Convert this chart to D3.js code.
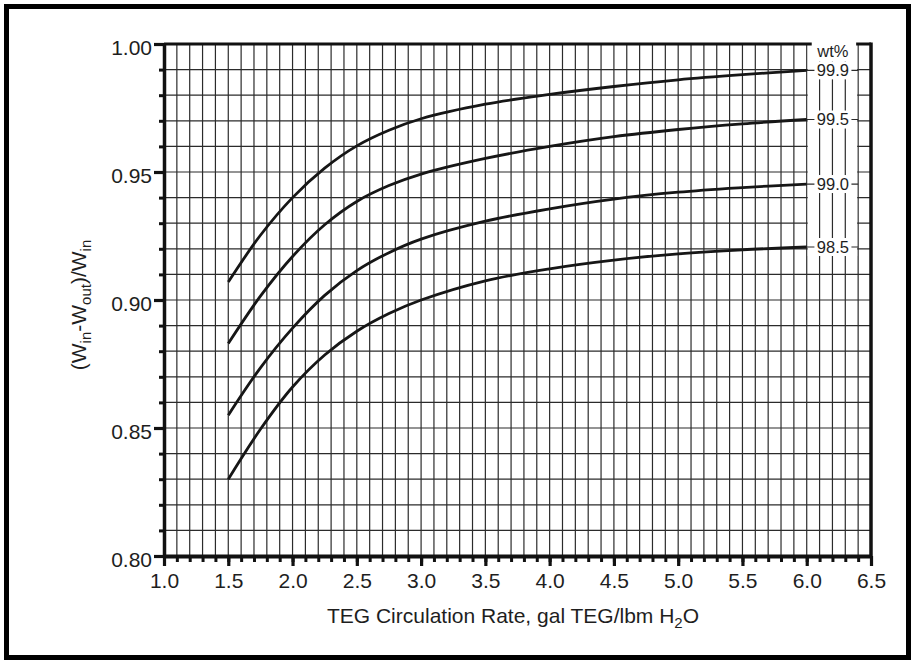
<!DOCTYPE html>
<html>
<head>
<meta charset="utf-8">
<script src="https://cdn.jsdelivr.net/npm/d3@7"></script>
<style>
  body { margin: 0; background: #fff; }
  text { font-family: "Liberation Sans", Arial, Helvetica, sans-serif; fill: #1e1e1e; }
</style>
</head>
<body>
<svg id="chart" width="915" height="664"></svg>
<script>
// ---------------- data ----------------
const xTicks = [1.0, 1.5, 2.0, 2.5, 3.0, 3.5, 4.0, 4.5, 5.0, 5.5, 6.0, 6.5];
const yTicks = [0.80, 0.85, 0.90, 0.95, 1.00];
const seriesLabels = ["99.9", "99.5", "99.0", "98.5"];
const legendTitle = "wt%";
const xTitle = "TEG Circulation Rate, gal TEG/lbm H";
const rate   = [1.5,   1.75,   2.0,   2.25,   2.5,    2.75,   3.0,    3.5,    4.0,    4.5,    5.0,    5.5,    6.0];
const eff999 = [0.907, 0.9253, 0.940, 0.9515, 0.9602, 0.9663, 0.9708, 0.9765, 0.9803, 0.9834, 0.9860, 0.9880, 0.9897];
const eff995 = [0.883, 0.9015, 0.917, 0.9294, 0.9385, 0.9447, 0.9492, 0.9553, 0.9600, 0.9638, 0.9666, 0.9688, 0.9705];
const eff990 = [0.855, 0.8735, 0.889, 0.9018, 0.9115, 0.9185, 0.9238, 0.9308, 0.9356, 0.9394, 0.9421, 0.9439, 0.9453];
const eff985 = [0.830, 0.8495, 0.866, 0.8785, 0.8878, 0.8947, 0.9000, 0.9075, 0.9122, 0.9156, 0.9180, 0.9196, 0.9207];
const seriesValues = [eff999, eff995, eff990, eff985];

// ---------------- chart ----------------
const svg = d3.select("#chart");
const x = d3.scaleLinear().domain([1.0, 6.5]).range([164, 871]);
const y = d3.scaleLinear().domain([0.80, 1.00]).range([556, 44]);

const minorX = d3.range(10, 66).map(i => +(i / 10).toFixed(1));
const minorY = d3.range(80, 101).map(i => +(i / 100).toFixed(2));

// outer frame
svg.append("rect").attr("x", 6.5).attr("y", 6.5).attr("width", 902).attr("height", 651)
  .attr("fill", "none").attr("stroke", "#000").attr("stroke-width", 5);

// grid
const gridV = svg.append("g").attr("stroke", "#2b2b2b").attr("stroke-width", 1.2);
gridV.selectAll("line").data(minorX.filter(v => v > 1.01 && v < 6.49)).join("line")
  .attr("x1", d => x(d)).attr("x2", d => x(d)).attr("y1", y(1)).attr("y2", y(0.8));
const gridH = svg.append("g").attr("stroke", "#2b2b2b").attr("stroke-width", 1.2);
gridH.selectAll("line").data(minorY.filter(v => v > 0.801 && v < 0.999)).join("line")
  .attr("x1", x(1)).attr("x2", x(6.5)).attr("y1", d => y(d)).attr("y2", d => y(d));

// label column mask
const ends = seriesValues.map(s => s[s.length - 1]);
const boxH = 18, boxW = 37, colCx = x(6.2) + 0.5;
const maskTop = y(1) - 3;
const maskBottom = y(ends[ends.length - 1]) + boxH / 2;
svg.append("rect").attr("x", x(6.0) + 1).attr("y", maskTop)
  .attr("width", x(6.4) - x(6.0) - 2).attr("height", maskBottom - maskTop).attr("fill", "#fff");
// vertical stubs in column
const stubs = svg.append("g").attr("stroke", "#2b2b2b").attr("stroke-width", 1.2);
stubs.selectAll("line").data([6.1, 6.2, 6.3]).join("line")
  .attr("x1", d => x(d)).attr("x2", d => x(d))
  .attr("y1", y(ends[0]) - boxH / 2).attr("y2", maskBottom);
// leaders
const leaders = svg.append("g").attr("stroke", "#2b2b2b").attr("stroke-width", 1.2);
leaders.selectAll("line").data(ends).join("line")
  .attr("x1", x(6.0)).attr("x2", x(6.4)).attr("y1", d => y(d)).attr("y2", d => y(d));
// label boxes
svg.append("g").selectAll("rect").data(ends).join("rect")
  .attr("x", colCx - boxW / 2).attr("width", boxW)
  .attr("y", d => y(d) - boxH / 2).attr("height", boxH).attr("fill", "#fff");

// curves
const line = d3.line().x(d => x(d[0])).y(d => y(d[1])).curve(d3.curveCatmullRom.alpha(0.5));
svg.append("g").selectAll("path").data(seriesValues).join("path")
  .attr("d", s => line(rate.map((r, i) => [r, s[i]])))
  .attr("fill", "none").attr("stroke", "#161616").attr("stroke-width", 2.8)
  .attr("stroke-linejoin", "round");

// series labels
svg.append("g").selectAll("text").data(seriesLabels).join("text")
  .attr("x", colCx).attr("y", (d, i) => y(ends[i])).attr("dy", "0.36em")
  .attr("text-anchor", "middle").attr("font-size", 16.5).text(d => d);
svg.append("text").attr("x", colCx).attr("y", 57).attr("text-anchor", "middle")
  .attr("font-size", 16.5).text(legendTitle);

// top line and right border
svg.append("line").attr("x1", x(1)).attr("x2", x(6.0) + 5).attr("y1", y(1)).attr("y2", y(1))
  .attr("stroke", "#111").attr("stroke-width", 3);
svg.append("line").attr("x1", x(6.4) - 2).attr("x2", x(6.5)).attr("y1", y(1)).attr("y2", y(1))
  .attr("stroke", "#111").attr("stroke-width", 3);
svg.append("line").attr("x1", x(6.5)).attr("x2", x(6.5)).attr("y1", y(1) - 1.5).attr("y2", y(0.8))
  .attr("stroke", "#111").attr("stroke-width", 3.5);

// y axis
const yMinor = svg.append("g").attr("transform", `translate(${x(1)},0)`)
  .call(d3.axisLeft(y).tickValues(minorY).tickSize(5).tickSizeOuter(0).tickFormat(""));
yMinor.select(".domain").remove();
yMinor.selectAll("line").attr("stroke", "#111").attr("stroke-width", 3);
const yMajor = svg.append("g").attr("transform", `translate(${x(1)},0)`)
  .call(d3.axisLeft(y).tickValues(yTicks).tickSize(10).tickSizeOuter(0).tickPadding(2).tickFormat(d3.format(".2f")));
yMajor.select(".domain").attr("stroke", "#111").attr("stroke-width", 3.5);
yMajor.selectAll("line").attr("stroke", "#111").attr("stroke-width", 3.2);
yMajor.selectAll("text").attr("font-size", 21).attr("dy", "0.52em")
  .style("font-family", "'Liberation Sans', Arial, sans-serif").attr("fill", "#1e1e1e");

// x axis
const xMinor = svg.append("g").attr("transform", `translate(0,${y(0.8)})`)
  .call(d3.axisBottom(x).tickValues(minorX).tickSize(6).tickSizeOuter(0).tickFormat(""));
xMinor.select(".domain").remove();
xMinor.selectAll("line").attr("stroke", "#111").attr("stroke-width", 3);
const xMajor = svg.append("g").attr("transform", `translate(0,${y(0.8)})`)
  .call(d3.axisBottom(x).tickValues(xTicks).tickSize(10).tickSizeOuter(0).tickPadding(7).tickFormat(d3.format(".1f")));
xMajor.select(".domain").attr("stroke", "#111").attr("stroke-width", 4);
xMajor.selectAll("line").attr("stroke", "#111").attr("stroke-width", 3.2);
xMajor.selectAll("text").attr("font-size", 21)
  .style("font-family", "'Liberation Sans', Arial, sans-serif").attr("fill", "#1e1e1e");

// x title
const xt = svg.append("text").attr("x", 513).attr("y", 623).attr("text-anchor", "middle").attr("font-size", 21);
xt.append("tspan").text(xTitle);
xt.append("tspan").attr("font-size", 15).attr("dy", 5).text("2");
xt.append("tspan").attr("dy", -5).text("O");

// y title
const yt = svg.append("text").attr("transform", "translate(86,305) rotate(-90)")
  .attr("text-anchor", "middle").attr("font-size", 21);
yt.append("tspan").text("(W");
yt.append("tspan").attr("font-size", 15).attr("dy", 5).text("in");
yt.append("tspan").attr("dy", -5).text("-W");
yt.append("tspan").attr("font-size", 15).attr("dy", 5).text("out");
yt.append("tspan").attr("dy", -5).text(")/W");
yt.append("tspan").attr("font-size", 15).attr("dy", 5).text("in");
</script>
</body>
</html>
